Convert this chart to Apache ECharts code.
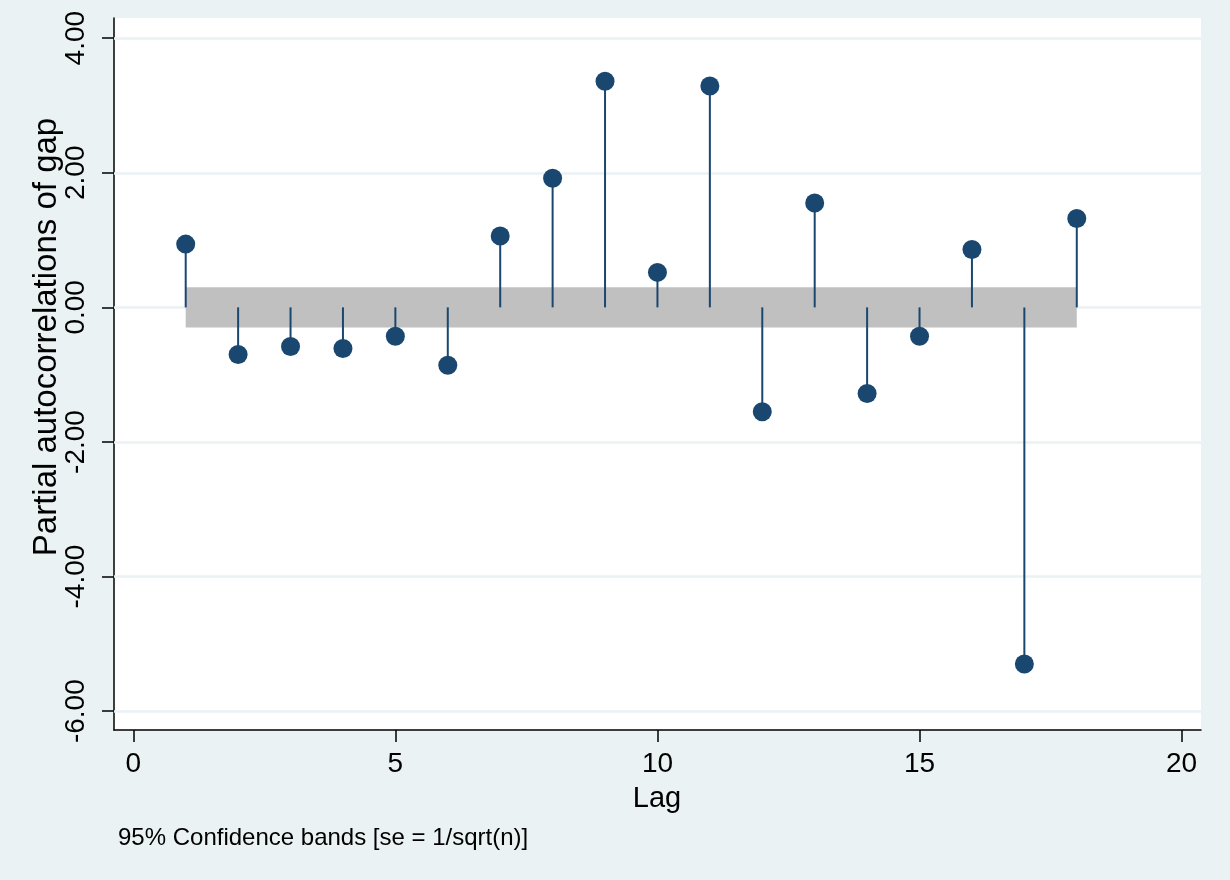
<!DOCTYPE html>
<html>
<head>
<meta charset="utf-8">
<script src="https://cdn.jsdelivr.net/npm/echarts@6/dist/echarts.min.js"></script>
<style>
html,body{margin:0;padding:0;background:#eaf2f3;}
#chart{width:1230px;height:880px;}
</style>
</head>
<body>
<div id="chart"></div>
<script>
const lags = [1,2,3,4,5,6,7,8,9,10,11,12,13,14,15,16,17,18];
const pac = [0.94,-0.70,-0.58,-0.61,-0.43,-0.86,1.06,1.92,3.36,0.52,3.29,-1.55,1.55,-1.28,-0.43,0.86,-5.30,1.32];
const bandLags = [1,18];
const bandHalfWidth = 0.30;
const xTicks = [0,5,10,15,20];
const yTicks = [-6,-4,-2,0,2,4];
const yTitle = 'Partial autocorrelations of gap';
const xTitle = 'Lag';
const note = '95% Confidence bands [se = 1/sqrt(n)]';

const FONT = '"Liberation Sans", Arial, Helvetica, sans-serif';
const navy = '#1a476f';

const chart = echarts.init(document.getElementById('chart'));
chart.setOption({
  backgroundColor: '#eaf2f3',
  animation: false,
  textStyle: {fontFamily: FONT},
  grid: {left: 114, right: 29, top: 18, bottom: 150, show: true, backgroundColor: '#ffffff', borderWidth: 0},
  xAxis: {
    type: 'value', min: -0.368, max: 20.37,
    axisLine: {onZero: false, lineStyle: {color: '#000', width: 1.5}},
    axisTick: {show: true, length: 12, customValues: xTicks, lineStyle: {color: '#000', width: 1.5}},
    axisLabel: {customValues: xTicks, color: '#000', fontSize: 28, fontFamily: FONT, margin: 20},
    splitLine: {show: false}
  },
  yAxis: {
    type: 'value', min: -6.28, max: 4.30,
    axisLine: {show: true, onZero: false, lineStyle: {color: '#000', width: 1.5}},
    axisTick: {show: true, length: 12, customValues: yTicks, lineStyle: {color: '#000', width: 1.5}},
    axisLabel: {customValues: yTicks, rotate: 90, color: '#000', fontSize: 28, fontFamily: FONT, margin: 24,
      formatter: v => Number(v).toFixed(2)},
    splitLine: {show: false}
  },
  graphic: [
    {type: 'text', left: 118, top: 826, style: {text: note, fontSize: 24, fontFamily: FONT, fill: '#000'}},
    {type: 'text', x: 657, y: 799, style: {text: xTitle, fontSize: 29, fontFamily: FONT, fill: '#000', align: 'center', verticalAlign: 'middle'}},
    {type: 'text', x: 47, y: 337, rotation: Math.PI/2, style: {text: yTitle, fontSize: 33, fontFamily: FONT, fill: '#000', align: 'center', verticalAlign: 'middle'}}
  ],
  series: [
    {
      type: 'scatter', data: [], z: 1, silent: true,
      markLine: {
        z: 1, silent: true, symbol: 'none', label: {show: false}, animation: false,
        lineStyle: {color: '#eaf2f3', width: 2.5, type: 'solid'},
        data: yTicks.map(v => ({yAxis: v}))
      }
    },
    {
      type: 'scatter', data: [], z: 2, silent: true,
      markArea: {
        z: 2, silent: true, itemStyle: {color: '#c0c0c0', opacity: 1},
        data: [[{coord: [bandLags[0], -bandHalfWidth]}, {coord: [bandLags[1], bandHalfWidth]}]]
      }
    },
    {
      type: 'custom', z: 3, silent: true,
      data: lags.map((l, i) => [l, pac[i]]),
      renderItem: (params, api) => {
        const p0 = api.coord([api.value(0), 0]);
        const p1 = api.coord([api.value(0), api.value(1)]);
        return {type: 'line', shape: {x1: p0[0], y1: p0[1], x2: p1[0], y2: p1[1]},
          style: {stroke: navy, lineWidth: 2}};
      }
    },
    {
      type: 'scatter', z: 4, symbol: 'circle', symbolSize: 19,
      itemStyle: {color: navy, opacity: 1},
      data: lags.map((l, i) => [l, pac[i]])
    }
  ]
});
</script>
</body>
</html>
